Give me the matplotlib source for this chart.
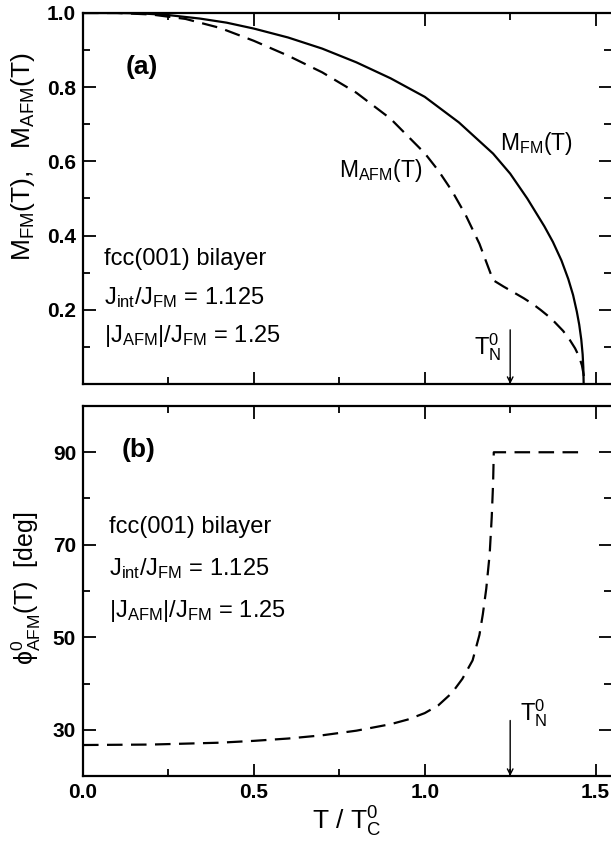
import matplotlib
matplotlib.use("Agg")
import matplotlib.pyplot as plt

plt.rcParams['font.family'] = ['Liberation Sans', 'DejaVu Sans']
plt.rcParams['mathtext.fontset'] = 'custom'
plt.rcParams['mathtext.rm'] = 'Liberation Sans'
plt.rcParams['mathtext.it'] = 'Liberation Sans:italic'
plt.rcParams['mathtext.bf'] = 'Liberation Sans:bold'
plt.rcParams['mathtext.fallback'] = 'stixsans'

# ---- data ----
t_fm = [0.0, 0.10, 0.167, 0.244, 0.342, 0.42, 0.50, 0.60, 0.70, 0.80, 0.90, 1.00, 1.10, 1.20,
        1.25, 1.30, 1.35, 1.375, 1.40, 1.42, 1.434, 1.445, 1.452, 1.458, 1.462, 1.464, 1.465]
m_fm = [1.0, 1.0, 0.999, 0.995, 0.985, 0.974, 0.958, 0.934, 0.904, 0.867, 0.824, 0.774, 0.705, 0.621,
        0.567, 0.500, 0.425, 0.383, 0.333, 0.283, 0.240, 0.195, 0.160, 0.120, 0.080, 0.045, 0.0]

t_afm = [0.0, 0.10, 0.20, 0.30, 0.40, 0.50, 0.60, 0.70, 0.80, 0.90, 1.00, 1.04, 1.08, 1.12, 1.16, 1.20,
         1.23, 1.26, 1.29, 1.317, 1.34, 1.36, 1.38, 1.405, 1.425, 1.44, 1.452, 1.46, 1.465, 1.467]
m_afm = [1.0, 1.0, 0.996, 0.984, 0.960, 0.925, 0.885, 0.840, 0.785, 0.715, 0.622, 0.575, 0.520, 0.455, 0.378, 0.280,
         0.263, 0.247, 0.231, 0.215, 0.199, 0.184, 0.167, 0.143, 0.118, 0.096, 0.073, 0.050, 0.025, 0.005]

t_phi = [0.0, 0.20, 0.40, 0.50, 0.60, 0.70, 0.80, 0.90, 0.95, 1.00, 1.04, 1.08, 1.11, 1.14, 1.16, 1.17, 1.18, 1.19,
         1.196, 1.20, 1.202, 1.30, 1.40, 1.462]
phi = [26.7, 26.8, 27.2, 27.6, 28.1, 28.8, 29.8, 31.2, 32.2, 33.6, 35.3, 38.0, 41.0, 45.0, 50.5, 55.0, 60.5, 68.0,
       76.0, 83.3, 90.0, 90.0, 90.0, 90.0]

t_neel = 1.25
x_ticks = [0.0, 0.5, 1.0, 1.5]
x_ticklabels = ['0.0', '0.5', '1.0', '1.5']
ya_ticks = [0.2, 0.4, 0.6, 0.8, 1.0]
ya_ticklabels = ['0.2', '0.4', '0.6', '0.8', '1.0']
yb_ticks = [30, 50, 70, 90]
yb_ticklabels = ['30', '50', '70', '90']

params = ['fcc(001) bilayer',
          r'J$_{\rm int}$/J$_{\rm FM}$ = 1.125',
          r'|J$_{\rm AFM}$|/J$_{\rm FM}$ = 1.25']

fig = plt.figure(figsize=(6.11, 8.47), dpi=100)
W, H = 611, 847
left, right = 83 / W, 611 / W
axa = fig.add_axes([left, 1 - 384 / H, right - left, (384 - 13) / H])
axb = fig.add_axes([left, 1 - 776 / H, right - left, (776 - 406) / H])

dash = (0, (7, 3.8))
lw = 1.6
tick_fs = 15
note_fs = 17

for ax in (axa, axb):
    ax.set_xlim(0, 1.545)
    ax.set_xticks(x_ticks)
    ax.set_xticks([0.25, 0.75, 1.25], minor=True)
    ax.tick_params(which='both', direction='in', top=True, right=True, width=1.3, pad=5)
    ax.tick_params(which='major', length=9)
    ax.tick_params(which='minor', length=5)
    for s in ax.spines.values():
        s.set_linewidth(1.6)
    ax.spines['right'].set_visible(False)

# panel a
axa.plot(t_fm, m_fm, color='black', lw=lw)
axa.plot(t_afm, m_afm, color='black', lw=lw, linestyle=dash)
axa.set_ylim(0, 1.0)
axa.set_yticks(ya_ticks)
axa.set_yticklabels(ya_ticklabels, fontsize=tick_fs, fontweight='bold')
axa.set_yticks([0.1, 0.3, 0.5, 0.7, 0.9], minor=True)
axa.set_xticklabels([])
axa.set_ylabel(r'M$_{\rm FM}$(T),   M$_{\rm AFM}$(T)', fontsize=19)
axa.yaxis.set_label_coords(-0.088, 0.614)
axa.text(0.08, 0.854, '(a)', transform=axa.transAxes, fontsize=19, fontweight='bold', va='center')
axa.text(0.485, 0.575, r'M$_{\rm AFM}$(T)', transform=axa.transAxes, fontsize=16.5, va='center')
axa.text(0.79, 0.648, r'M$_{\rm FM}$(T)', transform=axa.transAxes, fontsize=16.5, va='center')
for i, s in enumerate(params):
    axa.text(0.040, 0.337 - i * 0.104, s, transform=axa.transAxes, fontsize=note_fs, va='center')
axa.annotate('', xy=(t_neel, 0.0), xytext=(t_neel, 0.146),
             arrowprops=dict(arrowstyle='->', lw=1.0, color='black', shrinkA=0, shrinkB=0))
axa.text(t_neel - 0.025, 0.10, r'T$_{\rm N}^{0}$', fontsize=17, ha='right', va='center')

# panel b
axb.plot(t_phi, phi, color='black', lw=lw, linestyle=dash)
axb.set_ylim(20, 100)
axb.set_yticks(yb_ticks)
axb.set_yticklabels(yb_ticklabels, fontsize=tick_fs, fontweight='bold')
axb.set_yticks([40, 60, 80], minor=True)
axb.set_xticklabels(x_ticklabels, fontsize=tick_fs, fontweight='bold')
axb.set_ylabel(r'$\mathrm{ϕ}^{0}_{\rm AFM}$(T)  [deg]', fontsize=18)
axb.yaxis.set_label_coords(-0.076, 0.508)
axb.set_xlabel(r'T / T$_{\rm C}^{0}$', fontsize=19, va='top')
axb.xaxis.set_label_coords(0.5, -0.078)
axb.text(0.073, 0.881, '(b)', transform=axb.transAxes, fontsize=19, fontweight='bold', va='center')
for i, s in enumerate(params):
    axb.text(0.05, 0.673 - i * 0.113, s, transform=axb.transAxes, fontsize=note_fs, va='center')
axb.annotate('', xy=(t_neel, 20), xytext=(t_neel, 32.0),
             arrowprops=dict(arrowstyle='->', lw=1.0, color='black', shrinkA=0, shrinkB=0))
axb.text(t_neel + 0.03, 33.5, r'T$_{\rm N}^{0}$', fontsize=17, ha='left', va='center')

fig.savefig('out.png', dpi=100)
